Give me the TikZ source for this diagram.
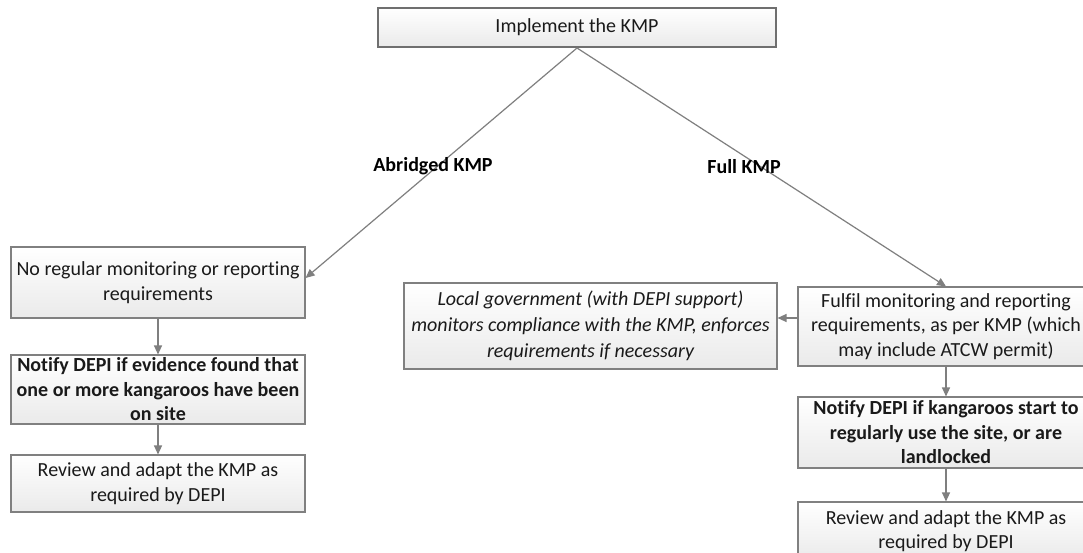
\documentclass[tikz,border=0pt]{standalone}
\usepackage{fontspec}
\setmainfont{Carlito}[Ligatures=NoCommon]
\usetikzlibrary{arrows.meta}
\definecolor{bordergray}{HTML}{808080}
\definecolor{topborder}{HTML}{6F6F6F}
\definecolor{linegray}{HTML}{7F7F7F}
\definecolor{boxbottom}{HTML}{EAEAEA}
\definecolor{txt}{HTML}{1A1A1A}
\begin{document}
\begin{tikzpicture}[x=1pt,y=-1pt,
  box/.style={draw=bordergray, line width=1.1pt, top color=white, bottom color=boxbottom,
    inner sep=0pt, align=center, text=txt, font=\fontsize{20}{24.5}\selectfont},
  topbox/.style={box, draw=topborder, line width=2pt},
  bbox/.style={box, font=\fontsize{20}{24.5}\selectfont\bfseries},
  ibox/.style={box, font=\fontsize{20}{26}\selectfont\itshape},
  lbl/.style={inner sep=0pt, text=black, font=\fontsize{20}{24}\selectfont\bfseries},
  conn/.style={draw=linegray, line width=1.2pt, -{Triangle[length=9pt,width=8pt]}}]
\useasboundingbox (0,0) rectangle (1083,553);
\clip (0,0) rectangle (1083,553);
\fill[white] (0,0) rectangle (1083,553);

\node[topbox, minimum width=398pt, minimum height=39pt] (top) at (577,27.5) {Implement the KMP};

\node[box, minimum width=294pt, minimum height=71pt] (L1) at (158,282.5)
  {No regular monitoring or reporting\\requirements};
\node[bbox, minimum width=294pt, minimum height=69pt] (L2) at (158,389.5)
  {Notify DEPI if evidence found that\\one or more kangaroos have been\\on site};
\node[box, minimum width=294pt, minimum height=57pt] (L3) at (158,483.5)
  {Review and adapt the KMP as\\required by DEPI};

\node[ibox, minimum width=373pt, minimum height=86pt] (M) at (590.5,326)
  {Local government (with DEPI support)\\monitors compliance with the KMP, enforces\\requirements if necessary};

\node[box, minimum width=296pt, minimum height=79pt] (R1) at (946,326.5)
  {Fulfil monitoring and reporting\\requirements, as per KMP (which\\may include ATCW permit)};
\node[bbox, minimum width=296pt, minimum height=71pt] (R2) at (946,432.5)
  {Notify DEPI if kangaroos start to\\regularly use the site, or are\\landlocked};
\node[box, minimum width=296pt, minimum height=58pt] (R3) at (946,531)
  {Review and adapt the KMP as\\required by DEPI};

\draw[conn] (top.south) -- ([yshift=4.5pt]L1.east);
\draw[conn] (top.south) -- (R1.north);
\draw[conn] (L1.south) -- (L2.north);
\draw[conn] (L2.south) -- (L3.north);
\draw[conn] ([yshift=8.5pt]R1.west) -- ([yshift=8pt]M.east);
\draw[conn] (R1.south) -- (R2.north);
\draw[conn] (R2.south) -- (R3.north);

\node[lbl] (abr) at (433,166) {Abridged KMP};
\node[lbl] (full) at (744,167) {Full KMP};
\end{tikzpicture}
\end{document}
